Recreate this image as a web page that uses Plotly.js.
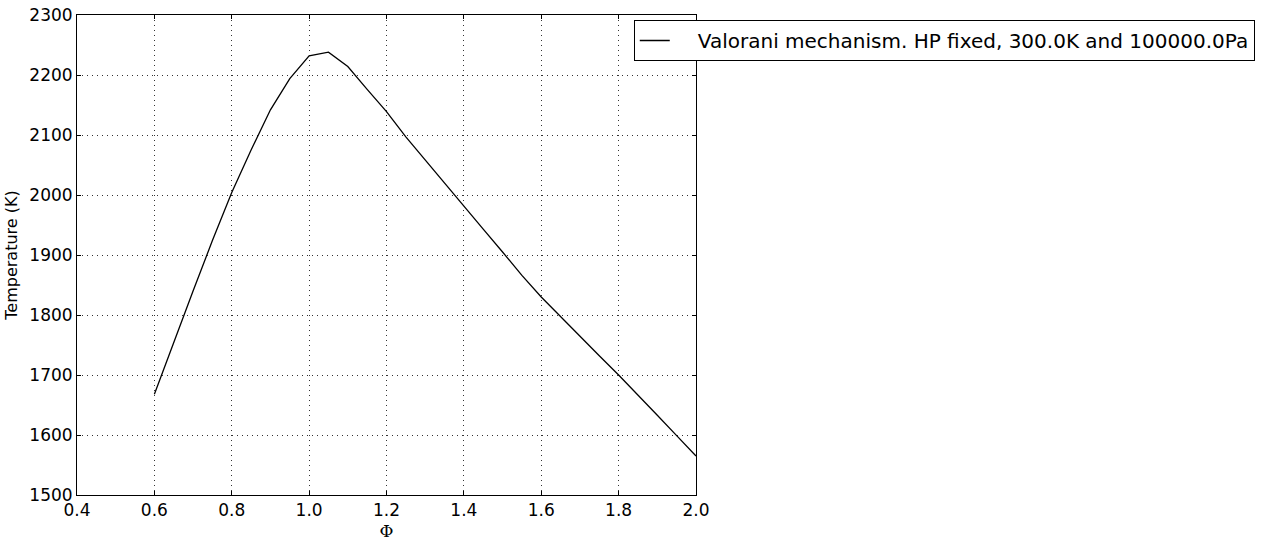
<!DOCTYPE html>
<html>
<head>
<meta charset="utf-8">
<script src="https://cdn.plot.ly/plotly-3.0.1.min.js"></script>
<style>html,body{margin:0;padding:0;background:#fff;}#chart{width:1266px;height:546px;}</style>
</head>
<body>
<div id="chart"></div>
<script>
const phi = [0.6, 0.65, 0.7, 0.75, 0.8, 0.85, 0.9, 0.95, 1.0, 1.05, 1.1, 1.15, 1.2, 1.25, 1.3, 1.35, 1.4, 1.45, 1.5, 1.55, 1.6, 1.65, 1.7, 1.75, 1.8, 1.85, 1.9, 1.95, 2.0];
const temperature = [1668, 1755, 1840, 1924, 2004, 2075, 2142, 2194, 2232, 2238, 2214, 2176, 2139, 2097, 2058, 2020, 1981, 1943, 1905, 1866, 1830, 1797, 1765, 1732, 1700, 1667, 1633, 1599, 1565];
const seriesName = "Valorani mechanism. HP fixed, 300.0K and 100000.0Pa";
const xTicks = [0.4, 0.6, 0.8, 1.0, 1.2, 1.4, 1.6, 1.8, 2.0];
const xTickLabels = ["0.4", "0.6", "0.8", "1.0", "1.2", "1.4", "1.6", "1.8", "2.0"];
const yTicks = [1500, 1600, 1700, 1800, 1900, 2000, 2100, 2200, 2300];

const font = {family: "DejaVu Sans", size: 17, color: "#000"};
const axisCommon = {
  showline: true, linecolor: "#000", linewidth: 1, mirror: "allticks",
  ticks: "inside", ticklen: 4, tickcolor: "#000", tickwidth: 1,
  showgrid: true, gridcolor: "#333", griddash: "1px,4px", gridwidth: 1,
  zeroline: false, tickfont: font
};

const data = [{
  x: phi, y: temperature, type: "scatter", mode: "lines",
  name: "\u00a0\u00a0\u00a0\u2009" + seriesName, line: {color: "#000", width: 1.3}
}];

const layout = {
  width: 1266, height: 546,
  margin: {l: 77, r: 569, t: 15, b: 51},
  paper_bgcolor: "#fff", plot_bgcolor: "#fff",
  font: font,
  showlegend: true,
  legend: {
    x: 0.898, y: 0.9896, xanchor: "left", yanchor: "top",
    bordercolor: "#000", borderwidth: 1, bgcolor: "#fff",
    font: {family: "DejaVu Sans", size: 20, color: "#000"}
  },
  xaxis: Object.assign({}, axisCommon, {
    range: [0.4, 2.0], tickvals: xTicks, ticktext: xTickLabels,
    title: {text: "Φ", font: {family: "DejaVu Serif", size: 17, color: "#000"}, standoff: 5}
  }),
  yaxis: Object.assign({}, axisCommon, {
    range: [1500, 2300], tickvals: yTicks,
    title: {text: "Temperature (K)", font: {family: "DejaVu Sans", size: 16, color: "#000"}, standoff: 7}
  })
};

Plotly.newPlot("chart", data, layout, {displayModeBar: false, staticPlot: true});
</script>
</body>
</html>
